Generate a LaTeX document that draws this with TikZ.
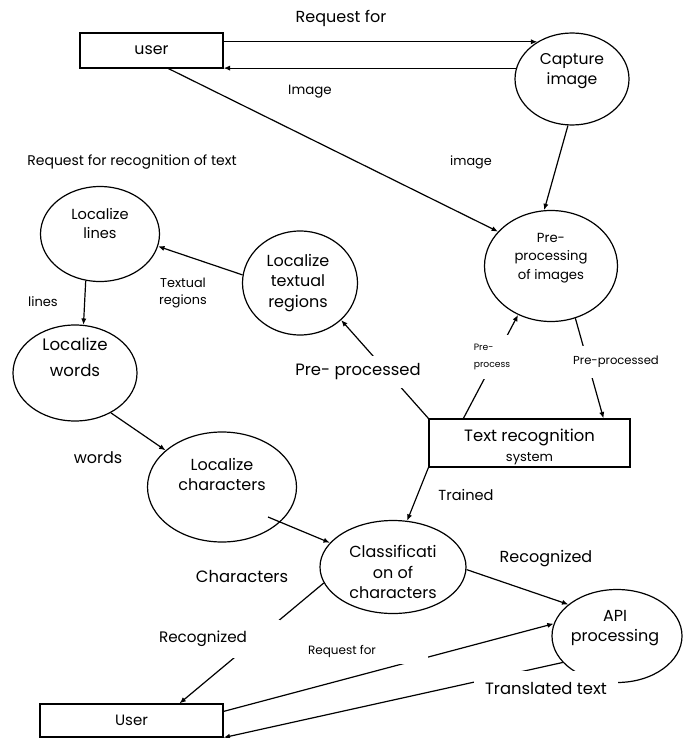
\documentclass[tikz,border=0pt]{standalone}
\usepackage{fontspec}
\setmainfont{Poppins}
\usetikzlibrary{arrows.meta,shapes.geometric,calc}
\newcommand{\fsz}[2]{\fontsize{#1pt}{#2pt}\selectfont}
\tikzset{
  ent/.style   ={draw, rectangle, line width=0.6pt, inner sep=0pt},
  proc/.style  ={draw, ellipse, line width=0.6pt, inner sep=0pt},
  txt/.style   ={align=center, inner sep=0pt},
  lbl/.style   ={fill=white, inner sep=1pt, align=center},
  arr/.style   ={-{Latex[length=3.2pt,width=2.6pt]}, line width=0.6pt},
}
\begin{document}
\begin{tikzpicture}[x=0.5pt,y=-0.5pt]
  \useasboundingbox (0,0) rectangle (683,738);
  %% entities
  \node[ent, minimum width=71.5pt, minimum height=17.5pt, font=\fsz{7.9}{10}] (usr) at (151.5,50.5) {user};
  \node[ent, minimum width=100.5pt, minimum height=24pt,
        label={[txt, font=\fsz{8.2}{10}, yshift=-2pt]center:Text recognition\\{\fsz{6.5}{10}system}}] (trs) at (529.5,443) {};
  \node[ent, minimum width=91.5pt, minimum height=16.5pt, font=\fsz{7.5}{10}] (usb) at (131.5,720.5) {User};
  %% processes
  \node[proc, minimum width=57pt, minimum height=46pt,
        label={[txt, font=\fsz{7.8}{10}, yshift=4pt]center:Capture\\image}] (cap) at (572,79) {};
  \node[proc, minimum width=66.5pt, minimum height=55.5pt,
        label={[txt, font=\fsz{6.6}{9.25}, yshift=4pt]center:Pre-\\processing\\of images}] (pre) at (551,266) {};
  \node[proc, minimum width=59.5pt, minimum height=47.5pt,
        label={[txt, font=\fsz{7.3}{9.5}, yshift=5pt]center:Localize\\lines}] (lin) at (100,234) {};
  \node[proc, minimum width=57.5pt, minimum height=52pt,
        label={[txt, font=\fsz{8}{10.25}, xshift=-1pt]center:Localize\\textual\\regions}] (reg) at (300,283) {};
  \node[proc, minimum width=62pt, minimum height=48pt,
        label={[txt, font=\fsz{8.3}{13}, yshift=8pt]center:Localize\\words}] (wor) at (75,373) {};
  \node[proc, minimum width=74.5pt, minimum height=55pt,
        label={[txt, font=\fsz{8}{10}, yshift=6.5pt]center:Localize\\characters}] (chr) at (222,487) {};
  \node[proc, minimum width=73pt, minimum height=46.5pt,
        label={[txt, font=\fsz{8}{10.25}, yshift=-2.5pt]center:Classificati\\on of\\characters}] (cls) at (393,567) {};
  \node[proc, minimum width=65pt, minimum height=46.5pt,
        label={[txt, font=\fsz{8}{10}, yshift=4pt, xshift=-1pt]center:API\\processing}] (api) at (617,636) {};
  %% data flows
  \draw[arr] (usr.east |- cap.133) -- (cap.133);
  \draw[arr] (cap.169) -- (cap.169 -| usr.east);
  \draw[arr] ($(usr.south)+(17,0)$) -- (pre.147);
  \draw[arr] (cap.265) -- (pre.97);
  \draw[arr] (reg.172) -- (lin.348);
  \draw[arr] (lin.253) -- (wor.80);
  \draw[arr] (wor.312) -- (chr.147);
  \draw[arr] ($(chr)+(46,30)$) -- (cls.159);
  \draw[arr] (trs.south west) -- (cls.73);
  \draw[arr] (cls.358) -- (api.147);
  \draw[arr] (cls.193) -- ($(usb.north)+(48,0)$);
  \draw[arr] ($(usb.north east)+(0,8)$) -- (api.169);
  \draw[arr] (api.206) -- (usb.south east);
  \draw[arr] (pre.295) -- ($(trs.north)+(74,0)$);
  \draw[arr] ($(trs.north west)+(35,0)$) -- (pre.236);
  \draw[arr] (trs.north west) -- (reg.318);
  %% labels
  \node[lbl, font=\fsz{8}{10}] (lReq) at (341,18) {Request for};
  \node[lbl, font=\fsz{6.7}{10}] (lImg) at (310,92) {Image};
  \node[lbl, font=\fsz{6.4}{10}] (limg) at (471,162) {image};
  \node[lbl, font=\fsz{7}{10}] (lRec) at (132,162) {Request for recognition of text};
  \node[lbl, font=\fsz{6.4}{8.3}] (lTxr) at (183,293) {Textual\\regions};
  \node[lbl, font=\fsz{6.5}{10}] (lLin) at (43,302) {lines};
  \node[lbl, font=\fsz{8}{10}] (lWor) at (98,458) {words};
  \node[lbl, font=\fsz{8.2}{10}, minimum height=16pt] (lPrp) at (358,372) {Pre- processed};
  \node[lbl, font=\fsz{4.6}{8.5}, align=left, minimum height=22pt, minimum width=16pt] (lPpc) at (492,357)
       {Pre-\\process};
  \node[lbl, font=\fsz{5.8}{10}, minimum height=16pt] (lPpd) at (616,362) {Pre-processed};
  \node[lbl, font=\fsz{7.3}{10}] (lTrn) at (466,495) {Trained};
  \node[lbl, font=\fsz{8}{10}] (lRcn) at (546,559) {Recognized};
  \node[lbl, font=\fsz{8.2}{10}] (lChr) at (242,576) {Characters};
  \node[lbl, font=\fsz{7.6}{10}, minimum width=77pt, minimum height=19pt] (lRcg) at (203,639) {Recognized};
  \node[lbl, font=\fsz{6}{10}, minimum width=86pt, minimum height=13pt] (lRqf) at (342,651) {Request for};
  \node[lbl, font=\fsz{8.2}{10}, minimum width=72pt, minimum height=17pt] (lTrt) at (546,688) {Translated text};
\end{tikzpicture}
\end{document}
